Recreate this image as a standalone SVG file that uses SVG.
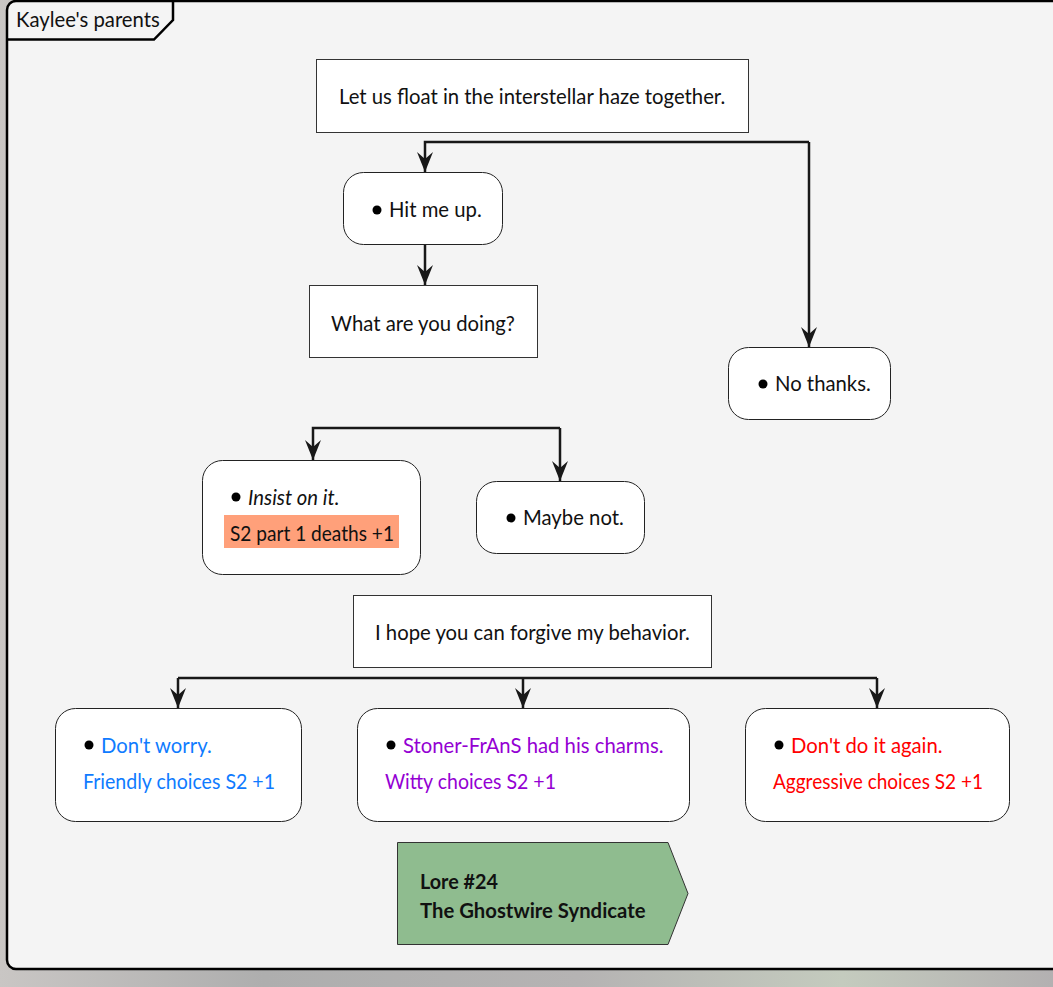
<svg xmlns="http://www.w3.org/2000/svg" width="1053" height="987" viewBox="0 0 1053 987">
  <defs>
    <linearGradient id="bgGrad" x1="0" y1="0" x2="1" y2="0">
      <stop offset="0" stop-color="#c9c6c4"/>
      <stop offset="0.25" stop-color="#aeaeae"/>
      <stop offset="0.55" stop-color="#b5b3b3"/>
      <stop offset="0.8" stop-color="#c4cbbe"/>
      <stop offset="1" stop-color="#b3b0b1"/>
    </linearGradient>
    <marker id="arrow" viewBox="0 0 20 20" markerWidth="20" markerHeight="20" refX="20" refY="10" orient="auto" markerUnits="userSpaceOnUse">
      <path d="M0,2 L20,10 L0,18 L7,10 Z" fill="#181818"/>
    </marker>
  </defs>
  <style>
    text { font-family: Lato, "Open Sans", "Liberation Sans", sans-serif; font-size: 20.3px; fill: #111; }
    .box { fill: #ffffff; stroke: #333; stroke-width: 1; }
    .round { fill: #ffffff; stroke: #222; stroke-width: 1; }
    .edge { fill: none; stroke: #181818; stroke-width: 2.5; }
    .bullet { fill: #000; }
    .blue { fill: #0f7bff; }
    .purple { fill: #9400d3; }
    .red { fill: #ff0000; }
  </style>

  <!-- backdrop around the frame -->
  <rect x="0" y="0" width="1053" height="987" fill="url(#bgGrad)"/>

  <!-- outer frame with title tab -->
  <g id="frame">
    <rect x="7" y="1" width="1060" height="968" rx="9" fill="#f4f4f4" stroke="#000" stroke-width="2.5"/>
    <path d="M7,39.5 L154,39.5 L173,20 L173,1" fill="none" stroke="#000" stroke-width="2.5"/>
    <text x="16" y="27">Kaylee's parents</text>
  </g>

  <!-- connectors -->
  <g id="connectors">
    <path class="edge" d="M809,142 L425,142 L425,172" marker-end="url(#arrow)"/>
    <path class="edge" d="M809,142 L809,347" marker-end="url(#arrow)"/>
    <path class="edge" d="M425,245 L425,285" marker-end="url(#arrow)"/>
    <path class="edge" d="M560,428 L313,428 L313,460" marker-end="url(#arrow)"/>
    <path class="edge" d="M560,428 L560,481" marker-end="url(#arrow)"/>
    <path class="edge" d="M178,678 L877,678"/>
    <path class="edge" d="M178,678 L178,708" marker-end="url(#arrow)"/>
    <path class="edge" d="M523,678 L523,708" marker-end="url(#arrow)"/>
    <path class="edge" d="M877,678 L877,708" marker-end="url(#arrow)"/>
  </g>

  <g id="n-float">
    <rect class="box" x="316.5" y="59.5" width="432" height="73"/>
    <text x="339" y="104">Let us float in the interstellar haze together.</text>
  </g>

  <g id="n-hit">
    <rect class="round" x="343.5" y="172.5" width="159" height="72" rx="20"/>
    <circle class="bullet" cx="377" cy="210" r="4.5"/>
    <text x="389" y="217">Hit me up.</text>
  </g>

  <g id="n-doing">
    <rect class="box" x="309.5" y="285.5" width="228" height="72"/>
    <text x="331" y="331">What are you doing?</text>
  </g>

  <g id="n-nothanks">
    <rect class="round" x="728.5" y="347.5" width="162" height="72" rx="20"/>
    <circle class="bullet" cx="763" cy="384" r="4.5"/>
    <text x="775" y="391">No thanks.</text>
  </g>

  <g id="n-insist">
    <rect class="round" x="202.5" y="460.5" width="218" height="114" rx="20"/>
    <circle class="bullet" cx="236" cy="497" r="4.5"/>
    <text x="248" y="505" font-style="italic">Insist on it.</text>
    <rect x="224" y="515" width="175" height="33" fill="#ffa07a"/>
    <text x="230" y="541" textLength="164" lengthAdjust="spacingAndGlyphs">S2 part 1 deaths +1</text>
  </g>

  <g id="n-maybe">
    <rect class="round" x="476.5" y="481.5" width="168" height="72" rx="20"/>
    <circle class="bullet" cx="511" cy="518" r="4.5"/>
    <text x="523" y="525">Maybe not.</text>
  </g>

  <g id="n-hope">
    <rect class="box" x="353.5" y="595.5" width="358" height="72"/>
    <text x="375" y="640">I hope you can forgive my behavior.</text>
  </g>

  <g id="n-worry">
    <rect class="round" x="55.5" y="708.5" width="246" height="113" rx="20"/>
    <circle class="bullet" cx="89" cy="745" r="4.5"/>
    <text class="blue" x="101" y="753">Don't worry.</text>
    <text class="blue" x="83" y="789" textLength="192" lengthAdjust="spacingAndGlyphs">Friendly choices S2 +1</text>
  </g>

  <g id="n-stoner">
    <rect class="round" x="357.5" y="708.5" width="332" height="113" rx="20"/>
    <circle class="bullet" cx="391" cy="745" r="4.5"/>
    <text class="purple" x="403" y="753">Stoner-FrAnS had his charms.</text>
    <text class="purple" x="385" y="789" textLength="171" lengthAdjust="spacingAndGlyphs">Witty choices S2 +1</text>
  </g>

  <g id="n-again">
    <rect class="round" x="745.5" y="708.5" width="264" height="113" rx="20"/>
    <circle class="bullet" cx="779" cy="745" r="4.5"/>
    <text class="red" x="791" y="753">Don't do it again.</text>
    <text class="red" x="773" y="789" textLength="210" lengthAdjust="spacingAndGlyphs">Aggressive choices S2 +1</text>
  </g>

  <g id="n-lore">
    <path d="M397.5,842.5 L668,842.5 L688,893.5 L668,944.5 L397.5,944.5 Z" fill="#8fbc8f" stroke="#333" stroke-width="1"/>
    <text x="420" y="889" font-weight="bold" textLength="78" lengthAdjust="spacingAndGlyphs">Lore #24</text>
    <text x="420" y="918" font-weight="bold">The Ghostwire Syndicate</text>
  </g>
</svg>
